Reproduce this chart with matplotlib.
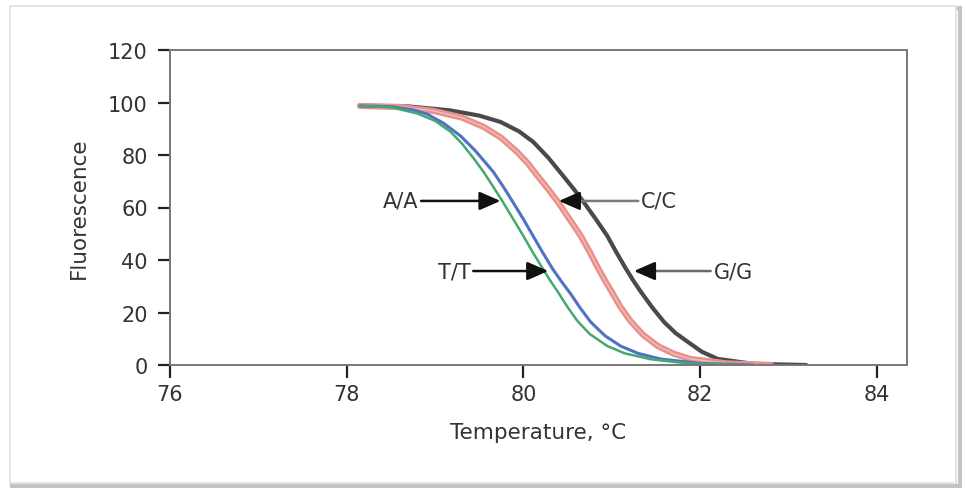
import matplotlib
matplotlib.use("Agg")
import matplotlib.pyplot as plt
from matplotlib.patches import Rectangle

plt.rcParams['font.family'] = ['DejaVu Sans']

# krzywe topnienia (temperatura, fluorescencja)
green_t = [78.15, 78.5, 78.8, 79.0, 79.17, 79.3, 79.43, 79.55, 79.65, 79.76, 79.88, 80.0,
           80.1, 80.21, 80.3, 80.39, 80.5, 80.61, 80.75, 80.95, 81.15, 81.44, 81.86, 82.5]
green_f = [98.7, 98.2, 95.8, 93.0, 89.0, 84.5, 79.0, 73.5, 68.3, 62.5, 55.8, 49.1,
           43.2, 37.2, 32.3, 27.8, 22.0, 16.8, 11.8, 7.2, 4.4, 2.2, 0.6, 0.0]

blue_t = [78.15, 78.5, 78.75, 78.91, 79.1, 79.29, 79.45, 79.56, 79.66, 79.77, 79.88, 80.0, 80.11,
          80.22, 80.33, 80.43, 80.53, 80.64, 80.76, 80.92, 81.1, 81.3, 81.55, 82.0, 82.6]
blue_f = [98.7, 98.4, 97.2, 95.6, 92.0, 87.2, 81.8, 77.5, 73.5, 68.0, 62.1, 55.5, 49.1,
          42.7, 36.6, 31.8, 27.3, 21.8, 16.4, 11.2, 7.2, 4.4, 2.3, 0.6, 0.0]

red_t = [78.15, 78.6, 78.98, 79.3, 79.55, 79.75, 79.93, 80.05, 80.16, 80.28, 80.39, 80.52, 80.65,
         80.75, 80.84, 80.92, 81.0, 81.1, 81.21, 81.35, 81.52, 81.7, 81.89, 82.3, 82.8]
red_f = [98.7, 98.3, 96.8, 94.3, 90.7, 86.5, 81.1, 76.8, 72.0, 67.0, 62.1, 55.6, 49.1,
         43.0, 37.2, 32.3, 27.8, 22.0, 16.8, 11.6, 7.2, 4.3, 2.3, 0.6, 0.0]

black_t = [78.15, 78.7, 79.17, 79.5, 79.74, 79.95, 80.11, 80.28, 80.45, 80.57, 80.68, 80.82, 80.95,
           81.05, 81.15, 81.24, 81.33, 81.46, 81.59, 81.72, 81.86, 82.02, 82.2, 82.61, 83.2]
black_f = [98.7, 98.5, 97.0, 95.0, 92.6, 89.0, 85.0, 79.0, 72.0, 67.0, 62.1, 55.5, 49.1,
           43.0, 37.2, 32.3, 27.8, 21.8, 16.4, 12.2, 8.8, 5.0, 2.3, 0.4, 0.0]

x_ticks = [76, 78, 80, 82, 84]
y_ticks = [0, 20, 40, 60, 80, 100, 120]

# etykiety genotypów: tekst, punkt strzałki, pozycja tekstu, wyrównanie
labels = ["A/A", "C/C", "T/T", "G/G"]
arrow_xy = [(79.74, 62.5), (80.40, 62.5), (80.28, 35.8), (81.25, 35.8)]
text_xy = [(78.81, 62.5), (81.33, 62.5), (79.40, 35.8), (82.15, 35.8)]
text_ha = ["right", "left", "right", "left"]
line_col = ["#111111", "#7a7a7a", "#111111", "#6a6a6a"]

fig = plt.figure(figsize=(9.66, 4.89), dpi=100)
ax = fig.add_axes([170 / 966, 1 - 366 / 489, 737 / 966, 315 / 489])
ax.set_zorder(2)
ax.patch.set_alpha(0)

# ramka wokół całego obrazka
fig.patches.append(Rectangle((12 / 966, 2 / 489), 948 / 966, 478 / 489, transform=fig.transFigure,
                             facecolor="none", edgecolor="#c4c4c4", linewidth=3, zorder=-2))
fig.patches.append(Rectangle((10 / 966, 5 / 489), 946 / 966, 477 / 489, transform=fig.transFigure,
                             facecolor="white", edgecolor="#e0e0e0", linewidth=1.2, zorder=-1))

ax.plot(black_t, black_f, color="#4a4a4a", lw=3.0, solid_capstyle="round")
ax.plot(red_t, red_f, color="#e8908c", lw=4.5, solid_capstyle="round")
ax.plot(red_t, red_f, color="#f3bcb8", lw=1.0)
ax.plot(blue_t, blue_f, color="#4f72c4", lw=2.2, solid_capstyle="round")
ax.plot(green_t, green_f, color="#45a86e", lw=1.8, solid_capstyle="round")

for lab, xy, txy, ha, lc in zip(labels, arrow_xy, text_xy, text_ha, line_col):
    # linia strzałki
    ax.annotate(lab, xy=xy, xytext=txy, ha=ha, va="center", fontsize=15, color="#333333",
                arrowprops=dict(arrowstyle="-", color=lc, lw=1.8, shrinkA=0, shrinkB=6))
    # czarny grot
    start = (xy[0] + (txy[0] - xy[0]) * 0.25, xy[1])
    ax.annotate("", xy=xy, xytext=start,
                arrowprops=dict(arrowstyle="-|>,head_length=0.8,head_width=0.35",
                                color="#111111", lw=1.8, shrinkA=0, shrinkB=0,
                                mutation_scale=16))

ax.set_xlim(76, 84.34)
ax.set_ylim(0, 120)
ax.set_xticks(x_ticks)
ax.set_yticks(y_ticks)
for s in ax.spines.values():
    s.set_color("#777777")
    s.set_linewidth(1.4)
ax.tick_params(direction="out", length=9, width=1.6, color="#222222", labelsize=15,
               labelcolor="#333333")
ax.tick_params(axis="y", pad=7)
ax.tick_params(axis="x", pad=5)
ax.set_xlabel("Temperature, °C", fontsize=15.5, color="#333333", labelpad=13)
ax.set_ylabel("Fluorescence", fontsize=15.5, color="#333333", labelpad=14)

fig.savefig("out.png", dpi=100)
